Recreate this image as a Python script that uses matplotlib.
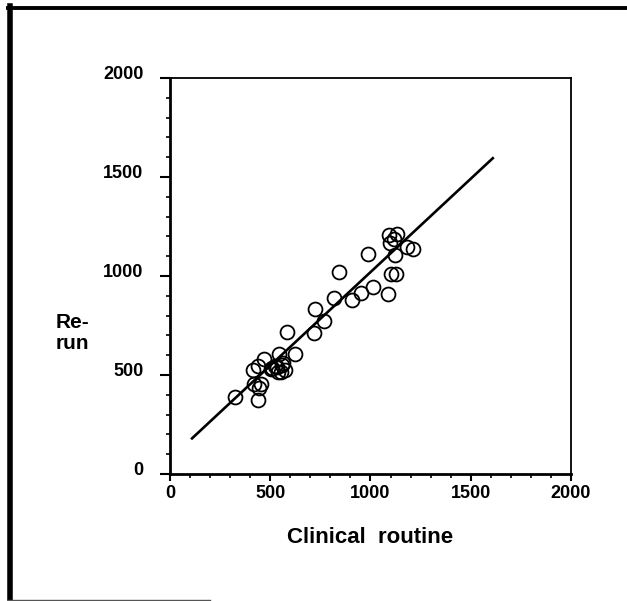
import matplotlib
matplotlib.use("Agg")
import matplotlib.pyplot as plt
from matplotlib.lines import Line2D
from matplotlib.transforms import ScaledTranslation
import numpy as np

plt.rcParams['font.family'] = ['Liberation Sans', 'DejaVu Sans']
plt.rcParams['font.weight'] = 'bold'

# values
clinical = [324, 437, 419, 452, 442, 416, 441, 469, 502, 524, 540, 545, 562, 574,
            552, 507, 532, 557, 623, 585, 718, 723, 767, 820, 843, 909, 954, 1012,
            1087, 986, 1102, 1126, 1121, 1092, 1134, 1119, 1097, 1181, 1210]
rerun = [387, 372, 453, 453, 436, 527, 547, 582, 530, 547, 514, 607, 559, 525,
         517, 534, 542, 551, 604, 717, 714, 832, 773, 890, 1020, 879, 913, 943,
         907, 1111, 1010, 1010, 1106, 1207, 1211, 1187, 1165, 1148, 1135]
fit_x = [110, 1610]
fit_y = [180, 1595]
ticks = [0, 500, 1000, 1500, 2000]

fig = plt.figure(figsize=(6.27, 6.01), dpi=100)
ax = fig.add_axes([0.2711, 0.2113, 0.6396, 0.6589])

ax.plot(fit_x, fit_y, color='black', lw=1.9)
ax.plot(clinical, rerun, 'o', mfc='none', mec='black', ms=10, mew=1.3)

ax.set_xlim(0, 2000)
ax.set_ylim(0, 2000)
ax.set_xticks(ticks)
ax.set_yticks(ticks)
ax.set_xticks(np.arange(0, 2001, 100), minor=True)
ax.set_yticks(np.arange(0, 2001, 100), minor=True)
ax.tick_params(axis='x', which='major', length=5, width=1.5, labelsize=13, pad=3)
ax.tick_params(axis='y', which='major', length=7, width=1.5, labelsize=13, pad=12)
ax.tick_params(which='minor', length=3, width=1.2)
ax.tick_params(top=False, right=False)

for sp in ['left', 'bottom']:
    ax.spines[sp].set_linewidth(2)
for sp in ['top', 'right']:
    ax.spines[sp].set_linewidth(1.3)

# y labels sit a little above their ticks
shift = ScaledTranslation(0, 6 / 100, fig.dpi_scale_trans)
for lab in ax.get_yticklabels():
    lab.set_transform(lab.get_transform() + shift)

ax.set_xlabel('Clinical  routine', fontsize=16, fontweight='bold', labelpad=18)
fig.text(56 / 627, 1 - 333 / 601, 'Re-\nrun', fontsize=15, fontweight='bold',
         ha='left', va='center', linespacing=1.15)

# page frame
fig.add_artist(Line2D([9.5 / 627, 9.5 / 627], [1 - 598 / 601, 1 - 6 / 601],
                      transform=fig.transFigure, color='black', lw=4))
fig.add_artist(Line2D([8 / 627, 1.0], [1 - 7.5 / 601, 1 - 7.5 / 601],
                      transform=fig.transFigure, color='black', lw=2.8))
fig.add_artist(Line2D([8 / 627, 210 / 627], [1 - 599.5 / 601, 1 - 599.5 / 601],
                      transform=fig.transFigure, color='#555555', lw=1))

fig.savefig('out.png', dpi=100)
